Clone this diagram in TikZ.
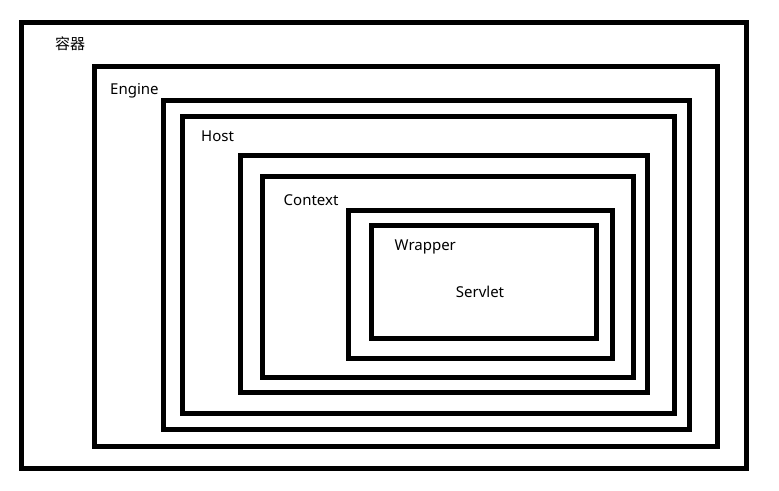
\documentclass[tikz,border=0pt]{standalone}
\usepackage{fontspec}
\setmainfont{Noto Sans}
\newfontfamily\cjk{Noto Sans CJK SC}
\begin{document}
\begin{tikzpicture}[x=1pt,y=-1pt,
  box/.style={draw=black,line width=5pt,line join=miter},
  lbl/.style={anchor=base west,inner sep=0pt,font=\fontsize{15}{18}\selectfont}]
\useasboundingbox[fill=white] (0,0) rectangle (779,490);
\draw[box] (21.5,22.5) rectangle (746.3,468);
\draw[box] (94.5,66.5) rectangle (717.5,446);
\draw[box] (163,100) rectangle (689.3,429);
\draw[box] (182.5,116.7) rectangle (674,413);
\draw[box] (240,155.5) rectangle (647.3,392.5);
\draw[box] (262.5,176.3) rectangle (633.5,377.5);
\draw[box] (348,210.7) rectangle (612.3,358);
\draw[box] (371.3,225.5) rectangle (596,338.7);
\node[inner sep=0pt,font=\cjk\fontsize{15}{18}\selectfont] (rq) at (70,43.5) {容器};
\node[lbl] (engine) at (110,94.3) {Engine};
\node[lbl] (host) at (201,141.7) {Host};
\node[lbl] (context) at (283.5,205) {Context};
\node[lbl] (wrapper) at (394.5,250) {Wrapper};
\node[lbl] (servlet) at (455.7,297.3) {Servlet};
\end{tikzpicture}
\end{document}
